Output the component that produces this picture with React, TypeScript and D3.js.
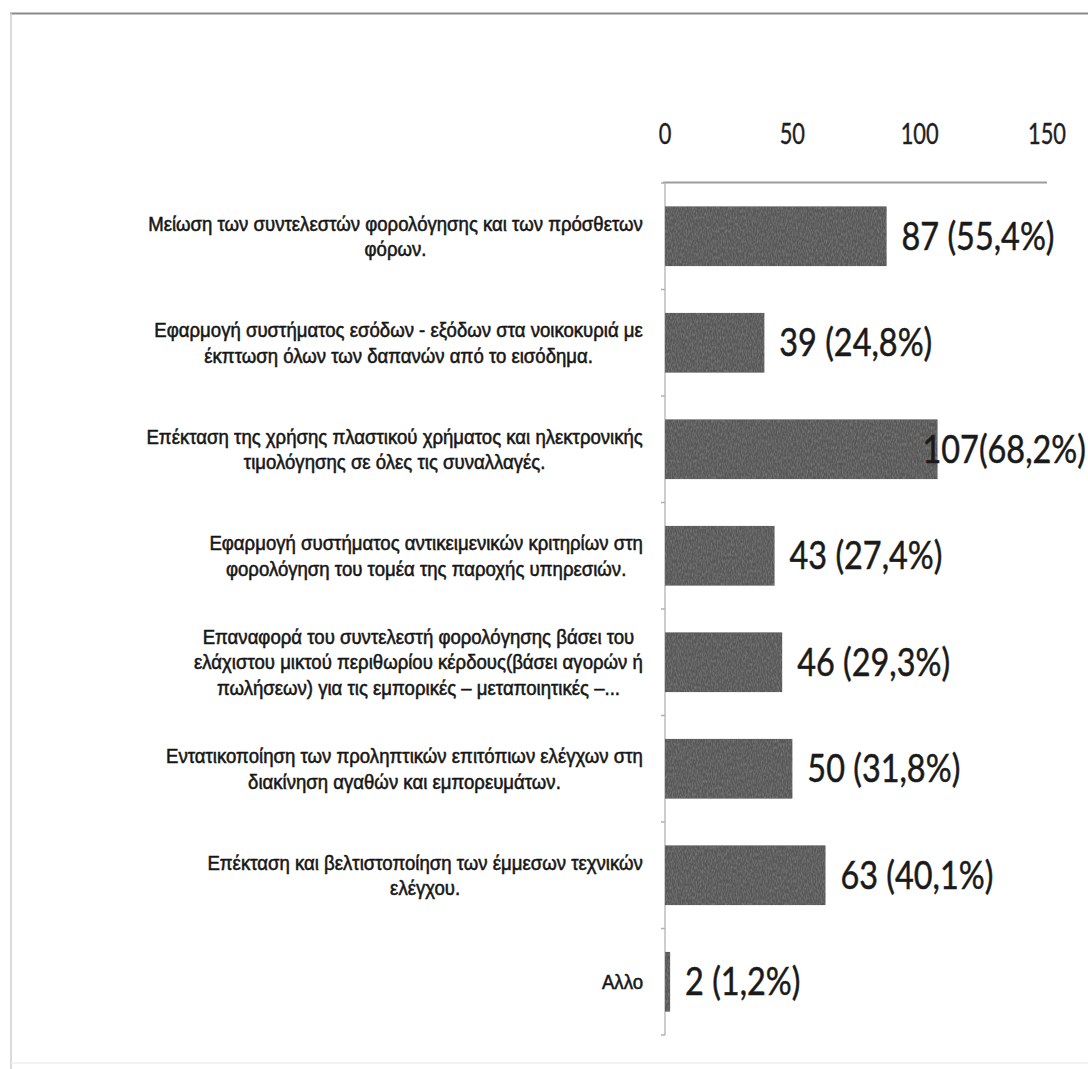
import React, { useRef, useEffect } from "react";
import * as d3 from "d3";

const categories: string[][] = [
  ["Μείωση των συντελεστών φορολόγησης και των πρόσθετων", "φόρων."],
  ["Εφαρμογή συστήματος εσόδων - εξόδων  στα νοικοκυριά με", "έκπτωση όλων των δαπανών από το εισόδημα."],
  ["Επέκταση της  χρήσης πλαστικού χρήματος και ηλεκτρονικής", "τιμολόγησης σε όλες τις συναλλαγές."],
  ["Εφαρμογή συστήματος αντικειμενικών κριτηρίων  στη", "φορολόγηση του τομέα  της  παροχής  υπηρεσιών."],
  [
    "Επαναφορά του συντελεστή φορολόγησης βάσει του",
    "ελάχιστου μικτού περιθωρίου  κέρδους(βάσει αγορών ή",
    "πωλήσεων)  για τις εμπορικές – μεταποιητικές –...",
  ],
  ["Εντατικοποίηση των προληπτικών επιτόπιων ελέγχων στη", "διακίνηση αγαθών και εμπορευμάτων."],
  ["Επέκταση και βελτιστοποίηση των έμμεσων τεχνικών", "ελέγχου."],
  ["Αλλο"],
];
const values: number[] = [87, 39, 107, 43, 46, 50, 63, 2];
const valueLabels: string[] = [
  "87 (55,4%)",
  "39 (24,8%)",
  "107(68,2%)",
  "43 (27,4%)",
  "46 (29,3%)",
  "50 (31,8%)",
  "63 (40,1%)",
  "2 (1,2%)",
];
const tickValues: number[] = [0, 50, 100, 150];

const W = 1088;
const H = 1069;

export default function App() {
  const ref = useRef<SVGSVGElement>(null);

  useEffect(() => {
    document.body.style.margin = "0";
    const svg = d3.select(ref.current);
    svg.selectAll("*").remove();

    const x = d3.scaleLinear().domain([0, 150]).range([665, 1047]);
    const y = d3
      .scaleBand<number>()
      .domain(d3.range(categories.length))
      .range([183, 1035])
      .paddingInner(0.44)
      .paddingOuter(0.22);
    const step = y.step();
    const bandStart = 183;

    // grain filter for the scanned texture of the bars
    const defs = svg.append("defs");
    const f = defs.append("filter").attr("id", "grain")
      .attr("x", 0).attr("y", 0).attr("width", 1).attr("height", 1)
      .attr("color-interpolation-filters", "sRGB");
    f.append("feTurbulence").attr("type", "fractalNoise").attr("baseFrequency", "0.8 0.3")
      .attr("numOctaves", 2).attr("seed", 3).attr("result", "n");
    f.append("feColorMatrix").attr("in", "n").attr("type", "matrix")
      .attr("values", "0 0 0 0 0.50  0 0 0 0 0.50  0 0 0 0 0.50  0 0 0 -1.6 1.05").attr("result", "g");
    f.append("feComposite").attr("in", "g").attr("in2", "SourceGraphic").attr("operator", "in").attr("result", "gi");
    f.append("feMerge").call((m) => {
      m.append("feMergeNode").attr("in", "SourceGraphic");
      m.append("feMergeNode").attr("in", "gi");
    });

    // frame
    svg.append("line").attr("x1", 10).attr("x2", W).attr("y1", 13.5).attr("y2", 13.5)
      .attr("stroke", "#8a8a8a").attr("stroke-width", 2);
    svg.append("line").attr("x1", 11).attr("x2", 11).attr("y1", 13).attr("y2", H)
      .attr("stroke", "#cfcfcf").attr("stroke-width", 1.5);
    svg.append("line").attr("x1", 11).attr("x2", W).attr("y1", 1063).attr("y2", 1063)
      .attr("stroke", "#eeeeee").attr("stroke-width", 1.5);

    // top axis line
    svg.append("line").attr("x1", x(0) - 2).attr("x2", x(150)).attr("y1", 182.5).attr("y2", 182.5)
      .attr("stroke", "#9c9c9c").attr("stroke-width", 2);
    // left axis line with ticks
    svg.append("line").attr("x1", x(0)).attr("x2", x(0)).attr("y1", 183).attr("y2", 1035)
      .attr("stroke", "#bdbdbd").attr("stroke-width", 1.5);
    svg.append("g").selectAll("line").data(d3.range(categories.length + 1)).join("line")
      .attr("x1", x(0) - 4).attr("x2", x(0))
      .attr("y1", (k) => bandStart + k * step).attr("y2", (k) => bandStart + k * step)
      .attr("stroke", "#b0b0b0").attr("stroke-width", 1.5);

    // tick labels
    const tickTexts = svg.append("g").selectAll("text").data(tickValues).join("text")
      .attr("font-family", "Lato, 'Open Sans', sans-serif")
      .attr("font-size", 28)
      .attr("fill", "#1e1e1e")
      .attr("stroke", "#1e1e1e")
      .attr("stroke-width", 0.4)
      .attr("text-anchor", "middle")
      .text((d) => String(d));
    const n100 = (tickTexts.nodes()[2] as SVGTextElement).getComputedTextLength();
    const tsx = 38 / n100;
    tickTexts.attr("transform", (d) => `translate(${x(d)},${144}) scale(${tsx},1)`);

    // bars
    svg.append("g").selectAll("rect").data(values).join("rect")
      .attr("x", x(0))
      .attr("y", (_, i) => y(i)!)
      .attr("width", (d) => x(d) - x(0))
      .attr("height", y.bandwidth())
      .attr("fill", "#575757")
      .attr("filter", "url(#grain)");

    // value labels
    const vTexts = svg.append("g").selectAll("text").data(values).join("text")
      .attr("font-family", "Lato, 'Open Sans', sans-serif")
      .attr("font-size", 38)
      .attr("fill", "#1a1a1a")
      .attr("stroke", "#1a1a1a")
      .attr("stroke-width", 0.5)
      .attr("dy", "0.36em")
      .text((_, i) => valueLabels[i]);
    const n0 = (vTexts.nodes()[0] as SVGTextElement).getComputedTextLength();
    const vsx = 153 / n0;
    vTexts.attr("transform", function (d, i) {
      const w = (this as SVGTextElement).getComputedTextLength() * vsx;
      const px = Math.min(x(d) + 15, 1086 - w);
      const py = y(i)! + y.bandwidth() / 2;
      return `translate(${px},${py}) scale(${vsx},1)`;
    });

    // category labels
    const cG = svg.append("g");
    const lineH = 25.5;
    const rightEdge = 643;
    const groups = cG.selectAll("g").data(categories).join("g");
    groups.selectAll("text").data((d) => d).join("text")
      .attr("font-family", "'Liberation Sans', Arial, sans-serif")
      .attr("font-size", 20)
      .attr("fill", "#161616")
      .attr("stroke", "#161616")
      .attr("stroke-width", 0.55)
      .attr("text-anchor", "middle")
      .attr("dy", "0.35em")
      .text((d) => d);
    const first = cG.select("g").select("text").node() as SVGTextElement;
    const csx = 495 / first.getComputedTextLength();
    groups.each(function (lines, i) {
      const texts = d3.select(this).selectAll<SVGTextElement, string>("text");
      let maxW = 0;
      texts.each(function () {
        maxW = Math.max(maxW, this.getComputedTextLength() * csx);
      });
      const cx = rightEdge - maxW / 2;
      const cy = y(i)! + y.bandwidth() / 2;
      texts.attr("transform", (_, j) => {
        const ly = cy + (j - (lines.length - 1) / 2) * lineH;
        return `translate(${cx},${ly}) scale(${csx},1)`;
      });
    });
  }, []);

  return (
    <svg
      ref={ref}
      width={W}
      height={H}
      viewBox={`0 0 ${W} ${H}`}
      style={{ display: "block", background: "#ffffff" }}
    />
  );
}
